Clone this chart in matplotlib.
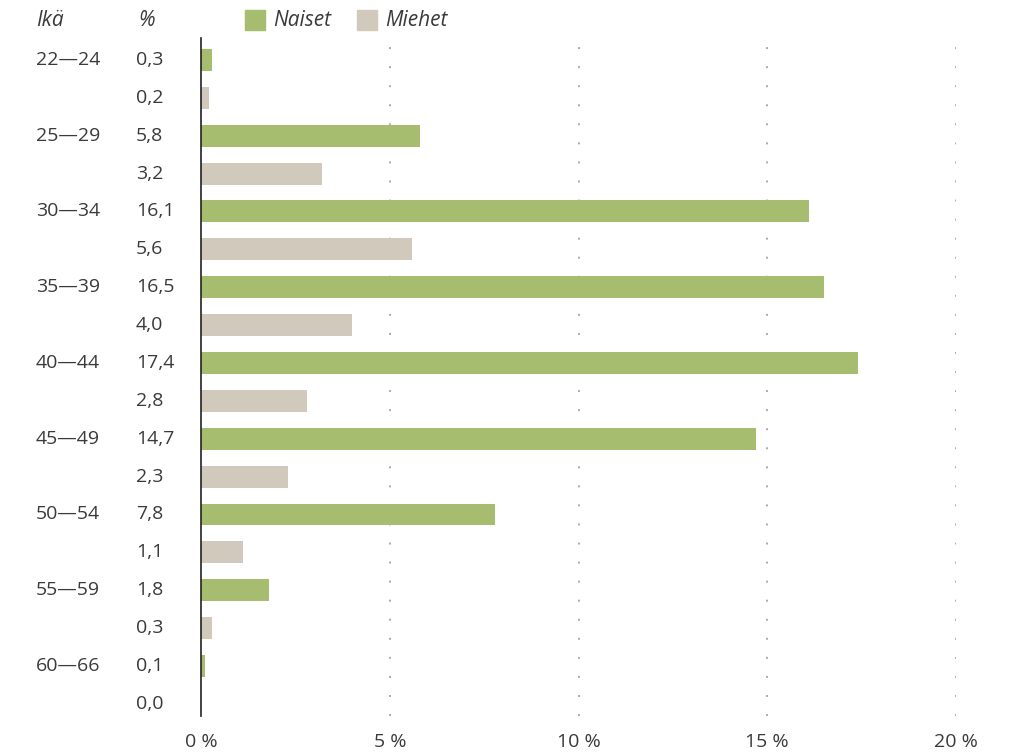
import matplotlib
matplotlib.use("Agg")
import matplotlib.pyplot as plt
from matplotlib.patches import Rectangle

ages = ["22—24", "25—29", "30—34", "35—39", "40—44", "45—49", "50—54", "55—59", "60—66"]
naiset = [0.3, 5.8, 16.1, 16.5, 17.4, 14.7, 7.8, 1.8, 0.1]
miehet = [0.2, 3.2, 5.6, 4.0, 2.8, 2.3, 1.1, 0.3, 0.0]
xticks = [0, 5, 10, 15, 20]
xticklabels = ["0 %", "5 %", "10 %", "15 %", "20 %"]

GREEN = "#a6bc6f"
BEIGE = "#d1c9bc"
TEXT = "#3a3a3a"
FONT = ["Open Sans", "DejaVu Sans"]
plt.rcParams["font.family"] = FONT

fig = plt.figure(figsize=(10.24, 7.53), dpi=100)
W, H = 1024, 753
ax = fig.add_axes([201 / W, 1 - 716 / H, (956 - 201) / W, (716 - 38) / H])

n = len(ages)
for i in range(n):
    ax.barh(2 * i, naiset[i], height=0.58, color=GREEN, align="center")
    ax.barh(2 * i + 1, miehet[i], height=0.58, color=BEIGE, align="center")

ax.set_xlim(0, 20)
ax.set_ylim(17.32, -0.58)

for s in ["top", "right", "bottom"]:
    ax.spines[s].set_visible(False)
ax.spines["left"].set_color("#222222")
ax.spines["left"].set_linewidth(1.2)
ax.set_yticks([])
ax.set_xticks(xticks)
ax.set_xticklabels(xticklabels, fontsize=14, color=TEXT)
ax.tick_params(axis="x", length=0, pad=12)

for xv in xticks[1:]:
    ax.axvline(xv, color="#aaaaaa", lw=1.4, linestyle=(0, (1, 8.8)), zorder=0)

def fmt(v):
    return f"{v:.1f}".replace(".", ",")

for i in range(n):
    for k, val in ((0, naiset[i]), (1, miehet[i])):
        yv = 2 * i + k
        yd = ax.transData.transform((0, yv))[1] / H
        if k == 0:
            fig.text(36 / W, yd, ages[i], fontsize=14, color=TEXT, va="center", ha="left")
        fig.text(136 / W, yd, fmt(val), fontsize=14, color=TEXT, va="center", ha="left")

fig.text(36 / W, 1 - 20 / H, "Ikä", fontsize=15, style="italic", color=TEXT, va="center", ha="left")
fig.text(138 / W, 1 - 20 / H, "%", fontsize=15, style="italic", color=TEXT, va="center", ha="left")

fig.patches.append(Rectangle((245 / W, 1 - 30 / H), 20 / W, 20 / H, transform=fig.transFigure, color=GREEN))
fig.text(273 / W, 1 - 20 / H, "Naiset", fontsize=15, style="italic", color=TEXT, va="center", ha="left")
fig.patches.append(Rectangle((357 / W, 1 - 30 / H), 20 / W, 20 / H, transform=fig.transFigure, color=BEIGE))
fig.text(385 / W, 1 - 20 / H, "Miehet", fontsize=15, style="italic", color=TEXT, va="center", ha="left")

fig.savefig("out.png", dpi=100)
